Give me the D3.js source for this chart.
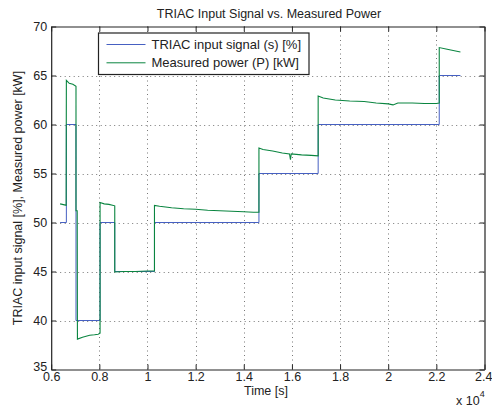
<!DOCTYPE html>
<html><head><meta charset="utf-8">
<script src="https://cdn.jsdelivr.net/npm/d3@7"></script>
<style>
body{margin:0;background:#fff;}
svg{display:block;font-family:"Liberation Sans",Arial,sans-serif;}
</style></head>
<body><div id="chart"></div>
<script>
// Data (time in units of 10^4 s)
const signalTime  = [0.637, 0.663, 0.703, 0.803, 0.864, 1.029, 1.463, 1.709, 2.212, 2.300];
const signalValue = [50, 60, 40, 50, 45, 50, 55, 60, 65, 65];

const powerTime = [0.637,0.655,0.662,0.663,0.675,0.69,0.703,0.703,0.708,0.709,0.73,0.76,0.78,0.795,0.803,
  0.803,0.82,0.84,0.864,0.864,0.9,0.95,1.0,1.029,1.029,1.05,1.1,1.15,1.2,1.25,1.3,1.35,1.4,1.44,1.463,
  1.463,1.48,1.52,1.56,1.59,1.594,1.597,1.64,1.68,1.709,1.709,1.73,1.78,1.84,1.9,1.95,2.0,2.02,2.04,2.1,2.15,2.2,2.212,
  2.212,2.24,2.27,2.3];
const powerValue = [51.9,51.8,51.75,64.5,64.2,64.1,63.9,51.2,51.2,38.1,38.3,38.5,38.55,38.6,38.7,
  52.05,51.9,51.85,51.7,44.95,45.0,45.0,45.05,45.05,51.75,51.65,51.5,51.4,51.35,51.25,51.2,51.15,51.1,51.05,51.05,
  57.6,57.45,57.3,57.1,57.0,56.4,57.0,56.9,56.85,56.8,62.9,62.7,62.5,62.4,62.35,62.2,62.1,62.0,62.2,62.2,62.15,62.15,62.2,
  67.85,67.7,67.55,67.4];

const xTicks = [0.6,0.8,1,1.2,1.4,1.6,1.8,2,2.2,2.4];
const yTicks = [35,40,45,50,55,60,65,70];
const legendLabels = ["TRIAC input signal (s) [%]", "Measured power (P) [kW]"];
const titleText = "TRIAC Input Signal vs. Measured Power";
const xLabel = "Time [s]";
const yLabel = "TRIAC input signal [%], Measured power [kW]";

const W = 492, H = 407;
const L = 51.2, R = 484.5, T = 26.5, B = 369.5;
const blue = "#4660c2", green = "#0a8540";
const FS = 12.5;

const svg = d3.select("#chart").append("svg").attr("width", W).attr("height", H);
const x = d3.scaleLinear().domain([0.6, 2.4]).range([L, R]);
const y = d3.scaleLinear().domain([35, 70]).range([B, T]);

// grid
const g = svg.append("g");
g.selectAll(".gx").data(xTicks.slice(1, -1)).join("line")
  .attr("x1", d => Math.round(x(d)) + 0.5).attr("x2", d => Math.round(x(d)) + 0.5)
  .attr("y1", T).attr("y2", B)
  .attr("stroke", "#777").attr("stroke-width", 1).attr("stroke-dasharray", "1,3.5");
g.selectAll(".gy").data(yTicks.slice(1, -1)).join("line")
  .attr("y1", d => Math.round(y(d)) + 0.5).attr("y2", d => Math.round(y(d)) + 0.5)
  .attr("x1", L).attr("x2", R)
  .attr("stroke", "#777").attr("stroke-width", 1).attr("stroke-dasharray", "1,3.5");

// axes
const tickFmt = d => String(d);
const axB = svg.append("g").attr("transform", `translate(0,${B})`)
  .call(d3.axisBottom(x).tickValues(xTicks).tickFormat(tickFmt).tickSizeInner(-5).tickSizeOuter(0).tickPadding(3));
const axT = svg.append("g").attr("transform", `translate(0,${T})`)
  .call(d3.axisTop(x).tickValues(xTicks).tickFormat("").tickSizeInner(-5).tickSizeOuter(0));
const axL = svg.append("g").attr("transform", `translate(${L},0)`)
  .call(d3.axisLeft(y).tickValues(yTicks).tickFormat(tickFmt).tickSizeInner(-5).tickSizeOuter(0).tickPadding(4));
const axR = svg.append("g").attr("transform", `translate(${R},0)`)
  .call(d3.axisRight(y).tickValues(yTicks).tickFormat("").tickSizeInner(-5).tickSizeOuter(0));
[axB, axT, axL, axR].forEach(a => {
  a.selectAll("path").attr("stroke", "#222").attr("stroke-width", 1.2);
  a.selectAll("line").attr("stroke", "#222");
  a.selectAll("text").attr("font-size", FS).attr("fill", "#222").attr("font-family", "Liberation Sans, Arial, sans-serif");
});
axB.selectAll(".tick").filter(d => d === 2.4).select("text").attr("dx", "-0.1em");
axL.selectAll(".tick").filter(d => d === 35).select("text").attr("dy", "0.1em");

// lines
const sigData = signalTime.map((t, i) => [t, signalValue[i]]);
const powData = powerTime.map((t, i) => [t, powerValue[i]]);
svg.append("path").datum(sigData)
  .attr("d", d3.line().x(d => x(d[0])).y(d => y(d[1])).curve(d3.curveStepAfter))
  .attr("fill", "none").attr("stroke", blue).attr("stroke-width", 1);
svg.append("path").datum(powData)
  .attr("d", d3.line().x(d => x(d[0])).y(d => y(d[1])))
  .attr("fill", "none").attr("stroke", green).attr("stroke-width", 1.1);

// legend
const lg = svg.append("g");
lg.append("rect").attr("x", 98.5).attr("y", 33).attr("width", 210.5).attr("height", 41.5)
  .attr("fill", "#fff").attr("stroke", "#222").attr("stroke-width", 1.2);
[blue, green].forEach((c, i) => {
  const yy = 44.5 + i * 18.3;
  lg.append("line").attr("x1", 106.5).attr("x2", 145.5).attr("y1", yy).attr("y2", yy)
    .attr("stroke", c).attr("stroke-width", 1);
  lg.append("text").attr("x", 151.5).attr("y", yy).attr("dy", "0.36em")
    .attr("font-size", 13).attr("fill", "#222").text(legendLabels[i]);
});

// title and labels
svg.append("text").attr("x", 269).attr("y", 18).attr("text-anchor", "middle")
  .attr("font-size", FS).attr("fill", "#222").text(titleText);
svg.append("text").attr("x", 266).attr("y", 395).attr("text-anchor", "middle")
  .attr("font-size", FS).attr("fill", "#222").text(xLabel);
svg.append("text").attr("transform", `translate(22,${(T + B) / 2}) rotate(-90)`).attr("text-anchor", "middle")
  .attr("font-size", FS).attr("fill", "#222").text(yLabel);
const ex = svg.append("text").attr("x", 456).attr("y", 405).attr("font-size", FS).attr("fill", "#222");
ex.append("tspan").text("x 10");
ex.append("tspan").attr("dy", -8).attr("font-size", 9).text("4");
</script></body></html>
